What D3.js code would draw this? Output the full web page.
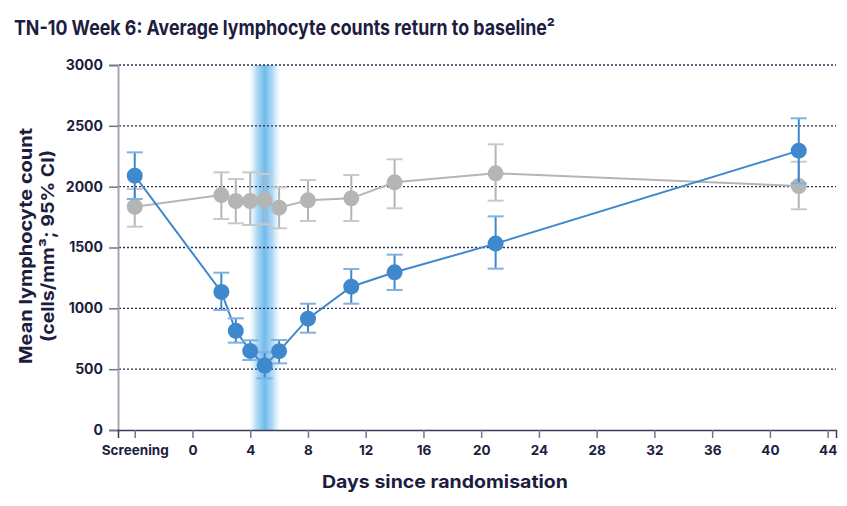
<!DOCTYPE html>
<html>
<head>
<meta charset="utf-8">
<script src="https://cdn.jsdelivr.net/npm/d3@7"></script>
<style>
  body { margin: 0; background: #fff; }
  svg text { font-family: Inter, "Open Sans", sans-serif; fill: #1c1d3f; }
</style>
</head>
<body>
<svg id="chart" width="847" height="506"></svg>
<script>
// days since randomisation; screening sits at -4
const days = [-4, 2, 3, 4, 5, 6, 8, 11, 14, 21, 42];
const xTickValues = [-4, 0, 4, 8, 12, 16, 20, 24, 28, 32, 36, 40, 44];
const xTickLabels = ["Screening", "0", "4", "8", "12", "16", "20", "24", "28", "32", "36", "40", "44"];
const yTickValues = [0, 500, 1000, 1500, 2000, 2500, 3000];

const blueMean = [2090, 1135, 815, 650, 530, 648, 915, 1178, 1296, 1532, 2296];
const blueLow  = [1899, 986, 718, 575, 425, 548, 800, 1038, 1151, 1326, 2028];
const blueHigh = [2282, 1293, 918, 737, 639, 740, 1038, 1323, 1441, 1756, 2562];

const greyMean = [1835, 1931, 1882, 1882, 1890, 1827, 1888, 1904, 2036, 2110, 2005];
const greyLow  = [1671, 1734, 1699, 1685, 1690, 1658, 1718, 1718, 1822, 1885, 1814];
const greyHigh = [1981, 2118, 2063, 2118, 2104, 1995, 2055, 2096, 2225, 2348, 2205];

const bandDays = [3.9, 6.1];

const svg = d3.select("#chart");
const plotLeft = 118, plotRight = 836, plotTop = 65, plotBottom = 430;

const x = d3.scaleLinear().domain([-5.16, 44.58]).range([plotLeft, plotRight]);
const y = d3.scaleLinear().domain([0, 3000]).range([plotBottom, plotTop]);

// title
svg.append("text")
   .attr("x", 14).attr("y", 35)
   .attr("textLength", 541).attr("lengthAdjust", "spacingAndGlyphs")
   .style("font-size", "20.5px").style("font-weight", 700)
   .text("TN-10 Week 6: Average lymphocyte counts return to baseline²");

// shaded dosing band
const grad = svg.append("defs").append("linearGradient")
   .attr("id", "band").attr("x1", "0%").attr("x2", "100%");
grad.append("stop").attr("offset", "0%").attr("stop-color", "#d6ecfa").attr("stop-opacity", 0);
grad.append("stop").attr("offset", "25%").attr("stop-color", "#b0daf5");
grad.append("stop").attr("offset", "50%").attr("stop-color", "#72bbeb");
grad.append("stop").attr("offset", "75%").attr("stop-color", "#b0daf5");
grad.append("stop").attr("offset", "100%").attr("stop-color", "#d6ecfa").attr("stop-opacity", 0);

svg.append("rect")
   .attr("x", x(bandDays[0])).attr("y", plotTop)
   .attr("width", x(bandDays[1]) - x(bandDays[0]))
   .attr("height", plotBottom - plotTop)
   .attr("fill", "url(#band)");

// dotted grid lines
svg.append("g")
   .selectAll("line")
   .data(yTickValues.filter(d => d > 0))
   .enter()
   .append("line")
   .attr("x1", plotLeft + 1).attr("x2", plotRight)
   .attr("y1", d => y(d)).attr("y2", d => y(d))
   .attr("stroke", "#2d2d52")
   .attr("stroke-width", 1.4)
   .attr("stroke-dasharray", "2,2");

// y axis
const yAxis = d3.axisLeft(y).tickValues(yTickValues).tickFormat(d3.format("d"))
   .tickSize(9).tickPadding(6);
const gy = svg.append("g").attr("transform", `translate(${plotLeft},0)`).call(yAxis);
gy.select(".domain").attr("stroke", "#a8a4b6").attr("stroke-width", 2);
gy.selectAll(".tick line").attr("stroke", "#77738c").attr("stroke-width", 1.5);
gy.selectAll(".tick text")
  .style("font-size", "14px").style("font-weight", 700)
  .style("font-family", "Inter, sans-serif").attr("fill", "#1c1d3f");

// x axis
const xAxis = d3.axisBottom(x).tickValues(xTickValues)
   .tickFormat((d, i) => xTickLabels[i]).tickSize(8).tickPadding(7);
const gx = svg.append("g").attr("transform", `translate(0,${plotBottom})`).call(xAxis);
gx.select(".domain").attr("stroke", "#3d3b5c").attr("stroke-width", 1.5);
gx.selectAll(".tick line").attr("stroke", "#77738c").attr("stroke-width", 1.5);
gx.selectAll(".tick text")
  .style("font-size", "13.5px").style("font-weight", 700)
  .style("font-family", "Inter, sans-serif").attr("fill", "#1c1d3f");

// axis titles
svg.append("text")
   .attr("transform", "translate(32,246) rotate(-90)")
   .attr("text-anchor", "middle")
   .attr("textLength", 236).attr("lengthAdjust", "spacingAndGlyphs")
   .style("font-size", "18px").style("font-weight", 700)
   .text("Mean lymphocyte count");
svg.append("text")
   .attr("transform", "translate(54,246) rotate(-90)")
   .attr("text-anchor", "middle")
   .attr("textLength", 192).attr("lengthAdjust", "spacingAndGlyphs")
   .style("font-size", "18px").style("font-weight", 700)
   .text("(cells/mm³; 95% CI)");

svg.append("text")
   .attr("x", 445).attr("y", 488)
   .attr("text-anchor", "middle")
   .attr("textLength", 246).attr("lengthAdjust", "spacingAndGlyphs")
   .style("font-size", "18px").style("font-weight", 700)
   .text("Days since randomisation");

// series
function drawSeries(mean, low, high, colour, capColour) {
  const pts = days.map((d, i) => ({day: d, mean: mean[i], low: low[i], high: high[i]}));
  const g = svg.append("g");

  g.append("path")
   .datum(pts)
   .attr("fill", "none")
   .attr("stroke", colour)
   .attr("stroke-width", 2)
   .attr("d", d3.line().x(d => x(d.day)).y(d => y(d.mean)));

  const bars = g.selectAll(".err").data(pts).enter().append("g");
  bars.append("line")
      .attr("x1", d => x(d.day)).attr("x2", d => x(d.day))
      .attr("y1", d => y(d.low)).attr("y2", d => y(d.high))
      .attr("stroke", colour).attr("stroke-width", 2);
  bars.append("line")
      .attr("x1", d => x(d.day) - 8).attr("x2", d => x(d.day) + 8)
      .attr("y1", d => y(d.high)).attr("y2", d => y(d.high))
      .attr("stroke", capColour).attr("stroke-width", 2);
  bars.append("line")
      .attr("x1", d => x(d.day) - 8).attr("x2", d => x(d.day) + 8)
      .attr("y1", d => y(d.low)).attr("y2", d => y(d.low))
      .attr("stroke", capColour).attr("stroke-width", 2);

  g.selectAll("circle").data(pts).enter().append("circle")
   .attr("cx", d => x(d.day)).attr("cy", d => y(d.mean))
   .attr("r", 8)
   .attr("fill", colour);
}

drawSeries(greyMean, greyLow, greyHigh, "#b5b5b5", "#c9c9c9");
drawSeries(blueMean, blueLow, blueHigh, "#3f88cd", "#7fb1e2");
</script>
</body>
</html>
